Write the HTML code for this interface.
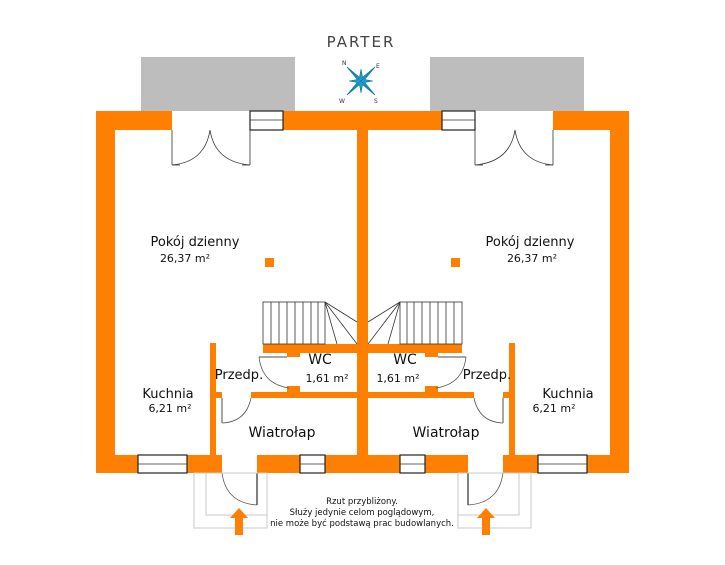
<!DOCTYPE html>
<html><head><meta charset="utf-8"><style>
html,body{margin:0;padding:0;background:#fff;}
svg{display:block;}
text{font-family:"DejaVu Sans","Liberation Sans",sans-serif;fill:#111;}
</style></head><body>
<svg width="725" height="565" viewBox="0 0 725 565" xmlns="http://www.w3.org/2000/svg">
<defs>
<g id="half">
  <rect x="141" y="57" width="154" height="54" fill="#bdbdbd"/>
  <g fill="#ff8000">
    <rect x="96" y="111" width="76" height="19"/>
    <rect x="283" y="111" width="80" height="19"/>
    <rect x="96" y="111" width="19" height="362"/>
    <rect x="357" y="111" width="6" height="362"/>
    <rect x="96" y="455" width="126" height="18"/>
    <rect x="257" y="455" width="106" height="18"/>
    <rect x="210" y="343" width="6" height="112"/>
    <rect x="210" y="392" width="12" height="6"/>
    <rect x="251" y="392" width="112" height="6"/>
    <rect x="263" y="344" width="100" height="9"/>
    <rect x="287" y="344" width="13" height="13" />
    <rect x="287" y="386" width="13" height="8"/>
    <rect x="265" y="258" width="9" height="9"/>
  </g>
  <rect x="275" y="353" width="12" height="4" fill="#fff"/>
  <g fill="none" stroke="#333" stroke-width="0.8">
    <line x1="172" y1="130" x2="172" y2="165"/>
    <line x1="250" y1="130" x2="250" y2="165"/>
    <line x1="172" y1="165" x2="180" y2="165"/>
    <line x1="242" y1="165" x2="250" y2="165"/>
    <path d="M172,165 Q205,162 210,130 Q215,162 250,165"/>
    <rect x="250" y="111" width="33" height="19" stroke="#222" stroke-width="1.2"/>
    <line x1="250" y1="120" x2="283" y2="120"/>
    <rect x="138" y="455" width="49" height="18" stroke="#222" stroke-width="1.2" fill="#fff"/>
    <line x1="138" y1="464" x2="187" y2="464"/>
    <rect x="300" y="455" width="25" height="18" stroke="#222" stroke-width="1.2" fill="#fff"/>
    <line x1="300" y1="464" x2="325" y2="464"/>
    <rect x="263" y="302" width="62" height="42" stroke="#333"/>
    <line x1="271" y1="302" x2="271" y2="344"/>
    <line x1="279" y1="302" x2="279" y2="344"/>
    <line x1="287" y1="302" x2="287" y2="344"/>
    <line x1="295" y1="302" x2="295" y2="344"/>
    <line x1="303" y1="302" x2="303" y2="344"/>
    <line x1="311" y1="302" x2="311" y2="344"/>
    <line x1="318" y1="302" x2="318" y2="344"/>
    <line x1="325" y1="302" x2="357" y2="322"/>
    <line x1="325" y1="302" x2="357" y2="344"/>
    <line x1="325" y1="302" x2="337" y2="344"/>
    <line x1="259" y1="357" x2="287" y2="357" stroke="#888" stroke-width="1.5"/>
    <path d="M259,357 Q262,384 289,388" stroke="#555"/>
    <line x1="222" y1="398" x2="222" y2="423" stroke="#888" stroke-width="1.5"/>
    <path d="M222,423 Q246,422 251,398" stroke="#555"/>
    <line x1="257" y1="473" x2="257" y2="505" stroke="#555" stroke-width="1.5"/>
    <path d="M222,473 Q226,503 257,505" stroke="#555"/>
  </g>
  <g fill="none" stroke="#c8c8c8" stroke-width="1">
    <rect x="194" y="473" width="73" height="55"/>
    <polyline points="206,473 206,515 267,515"/>
  </g>
  <polygon points="239,508 248,518 243,518 243,535 235,535 235,518 230,518" fill="#ff8000"/>
</g>
</defs>
<use href="#half"/>
<use href="#half" transform="translate(725,0) scale(-1,1)"/>
<text x="361" y="47" font-size="15" text-anchor="middle" letter-spacing="2" style="fill:#444">PARTER</text>
<g transform="translate(361,81)">
  <polygon fill="#1e9bc8" stroke="#0e6f94" stroke-width="0.6" points="0,-12 1.5,-3.7 14.1,-14.1 3.7,-1.5 12,0 3.7,1.5 14.1,14.1 1.5,3.7 0,12 -1.5,3.7 -14.1,14.1 -3.7,1.5 -12,0 -3.7,-1.5 -14.1,-14.1 -1.5,-3.7"/>
  <g stroke="#0e6f94" stroke-width="0.5"><line x1="-14" y1="-14" x2="14" y2="14"/><line x1="14" y1="-14" x2="-14" y2="14"/></g>
  <text x="-19" y="-16" font-size="6" style="fill:#333">N</text>
  <text x="15" y="-13" font-size="6" style="fill:#333">E</text>
  <text x="-22" y="22" font-size="6" style="fill:#333">W</text>
  <text x="13" y="22" font-size="6" style="fill:#333">S</text>
</g>
<g font-size="13">
  <text x="195" y="246" text-anchor="middle">Pokój dzienny</text>
  <text x="530" y="246" text-anchor="middle">Pokój dzienny</text>
  <text x="168" y="398" text-anchor="middle">Kuchnia</text>
  <text x="568" y="398" text-anchor="middle">Kuchnia</text>
  <text x="239" y="379" text-anchor="middle">Przedp.</text>
  <text x="487" y="379" text-anchor="middle">Przedp.</text>
  <text x="320" y="364" text-anchor="middle" font-size="14">WC</text>
  <text x="405" y="364" text-anchor="middle" font-size="14">WC</text>
  <text x="282" y="437" text-anchor="middle" font-size="14">Wiatrołap</text>
  <text x="446" y="437" text-anchor="middle" font-size="14">Wiatrołap</text>
</g>
<g font-size="11">
  <text x="185" y="262" text-anchor="middle">26,37 m²</text>
  <text x="532" y="262" text-anchor="middle">26,37 m²</text>
  <text x="170" y="412" text-anchor="middle">6,21 m²</text>
  <text x="554" y="412" text-anchor="middle">6,21 m²</text>
  <text x="327" y="382" text-anchor="middle">1,61 m²</text>
  <text x="398" y="382" text-anchor="middle">1,61 m²</text>
</g>
<g font-size="8.5" text-anchor="middle" style="fill:#333">
  <text x="362" y="504">Rzut przybliżony.</text>
  <text x="362" y="515">Służy jedynie celom poglądowym,</text>
  <text x="362" y="526">nie może być podstawą prac budowlanych.</text>
</g>
</svg>
</body></html>
